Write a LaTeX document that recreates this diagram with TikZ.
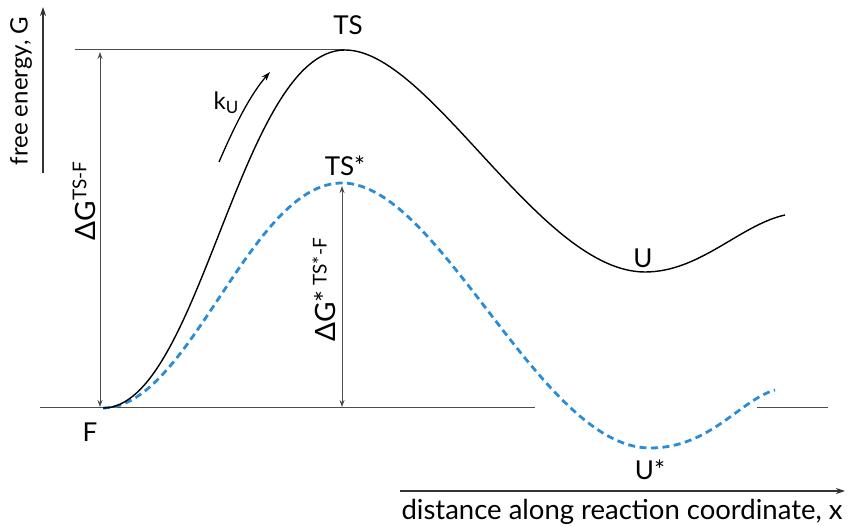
\documentclass[tikz,border=0pt]{standalone}
\usepackage{fontspec}
\setmainfont{Lato}
\usetikzlibrary{arrows.meta}
\definecolor{dashblue}{RGB}{40,140,215}
\newcommand{\mysup}[1]{\raisebox{0.62ex}{\fontsize{19}{19}\selectfont #1}}
\newcommand{\mysub}[1]{\raisebox{-0.35ex}{\fontsize{17}{17}\selectfont #1}}
\begin{document}
\begin{tikzpicture}[x=1pt,y=-1pt,
  lbl/.style={font=\fontsize{26}{30}\selectfont, inner sep=0pt},
  guide/.style={draw=black!70, line width=1pt},
  dimarrow/.style={draw=black!70, line width=0.9pt, {Stealth[length=7pt,width=5pt]}-{Stealth[length=7pt,width=5pt]}},
  axis/.style={draw=black!80, line width=1.2pt, -{Stealth[length=9pt,width=6pt]}},
  curve/.style={draw=black, line width=1.4pt},
  dcurve/.style={draw=dashblue, line width=2.8pt, dash pattern=on 7pt off 4.5pt}]
\path[use as bounding box] (0,0) rectangle (849,526);
% key points
\coordinate (F) at (103,408);
\coordinate (TS) at (345,50);
\coordinate (U) at (645,272);
\coordinate (Uend) at (785,215);
\coordinate (TSs) at (342,183);
\coordinate (Us) at (650,448);
\coordinate (Usend) at (775,390);
% axes
\coordinate (ya) at (43,173);
\coordinate (yb) at (43,7);
\draw[axis] (ya) -- (yb);
\coordinate (xa) at (400,491);
\coordinate (xb) at (845,491);
\draw[axis] (xa) -- (xb);
\node[lbl, font=\fontsize{24}{28}\selectfont, rotate=90] (ylab) at (21,91) {free energy, G};
\node[lbl, font=\fontsize{27.5}{32}\selectfont] (xlab) at (622,512) {distance along reaction coordinate, x};
% guide lines
\coordinate (topl) at (75,50);
\draw[guide] (topl) -- (TS);
\coordinate (botl) at (40,408);
\coordinate (botr) at (535,408);
\draw[guide] (botl) -- (botr);
\coordinate (botl2) at (757,408);
\coordinate (botr2) at (828,408);
\draw[guide] (botl2) -- (botr2);
% dimension arrows
\coordinate (d1t) at (100,52);
\coordinate (d1b) at (100,407);
\draw[dimarrow] (d1t) -- (d1b);
\coordinate (d2t) at (342,186);
\coordinate (d2b) at (342,407);
\draw[dimarrow] (d2t) -- (d2b);
\node[lbl, font=\fontsize{28}{32}\selectfont, rotate=90] (dg1) at (84,201) {ΔG\mysup{TS-F}};
\node[lbl, font=\fontsize{28}{32}\selectfont, rotate=90] (dg2) at (324,290) {ΔG*\mysup{ TS*-F}};
% curves
\draw[dcurve] (F) .. controls (190,408) and (250,183) .. (TSs)
  .. controls (440,183) and (540,448) .. (Us)
  .. controls (710,448) and (740,400) .. (Usend);
\draw[curve] (F) .. controls (200,408) and (240,50) .. (TS)
  .. controls (430,50) and (540,272) .. (U)
  .. controls (700,272) and (740,225) .. (Uend);
% k_U arrow
\coordinate (ka) at (219,162);
\coordinate (kb) at (270,72);
\draw[curve, line width=1.3pt, -{Stealth[length=9pt,width=6pt]}] (ka) .. controls (235,125) and (250,95) .. (kb);
% labels
\node[lbl] (tsl) at (348,25) {TS};
\node[lbl] (tssl) at (345,166) {TS*};
\node[lbl] (ul) at (643,258) {U};
\node[lbl] (usl) at (650,470) {U*};
\node[lbl] (fl) at (90,432) {F};
\node[lbl, font=\fontsize{24}{28}\selectfont] (kl) at (226,103) {k\mysub{U}};
\end{tikzpicture}
\end{document}
